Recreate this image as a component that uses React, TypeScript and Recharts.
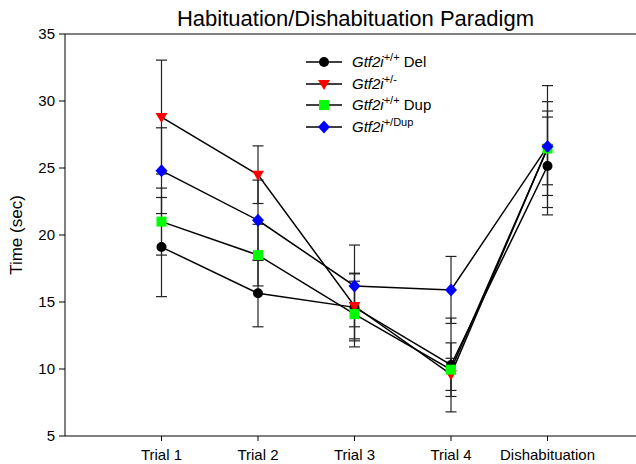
import React from 'react';
import {
  LineChart,
  Line,
  XAxis,
  YAxis,
  ErrorBar,
  Legend,
  ReferenceLine,
} from 'recharts';

const categories = ['Trial 1', 'Trial 2', 'Trial 3', 'Trial 4', 'Dishabituation'];
const yTicks = [5, 10, 15, 20, 25, 30, 35];

// Gtf2i +/+ Del (black circles)
const delMean = [19.1, 15.65, 14.6, 10.3, 25.15];
const delErr = [3.7, 2.5, 2.5, 3.5, 3.65];
// Gtf2i +/- (red triangles)
const hetMean = [28.8, 24.5, 14.7, 9.6, 26.5];
const hetErr = [4.25, 2.15, 2.45, 1.2, 2.75];
// Gtf2i +/+ Dup (green squares)
const dupMean = [21.0, 18.5, 14.1, 9.95, 26.45];
const dupErr = [2.5, 2.3, 2.45, 2.0, 3.5];
// Gtf2i +/Dup (blue diamonds)
const dupHetMean = [24.8, 21.1, 16.2, 15.9, 26.6];
const dupHetErr = [3.2, 3.0, 3.05, 2.5, 4.55];

const chartData = categories.map((name, i) => ({
  x: i + 1,
  name,
  del: delMean[i],
  delErr: delErr[i],
  het: hetMean[i],
  hetErr: hetErr[i],
  dup: dupMean[i],
  dupErr: dupErr[i],
  dupHet: dupHetMean[i],
  dupHetErr: dupHetErr[i],
}));

type Kind = 'circle' | 'triangle' | 'square' | 'diamond';

const markerColor: Record<Kind, string> = {
  circle: '#000000',
  triangle: '#ff0000',
  square: '#00ff00',
  diamond: '#0000ff',
};

const Marker = ({ cx, cy, kind }: { cx: number; cy: number; kind: Kind }) => {
  const fill = markerColor[kind];
  if (kind === 'circle') return <circle cx={cx} cy={cy} r={5} fill={fill} />;
  if (kind === 'square')
    return <rect x={cx - 5} y={cy - 5} width={10} height={10} fill={fill} />;
  if (kind === 'triangle')
    return (
      <polygon
        points={`${cx - 6},${cy - 4} ${cx + 6},${cy - 4} ${cx},${cy + 6}`}
        fill={fill}
      />
    );
  return (
    <polygon
      points={`${cx},${cy - 6.5} ${cx + 6},${cy} ${cx},${cy + 6.5} ${cx - 6},${cy}`}
      fill={fill}
    />
  );
};

const dotFor = (kind: Kind) => (p: any) =>
  <Marker key={`${kind}-${p.index}`} cx={p.cx} cy={p.cy} kind={kind} />;

const legendRows: { kind: Kind; sup: string; tail: string }[] = [
  { kind: 'circle', sup: '+/+', tail: ' Del' },
  { kind: 'triangle', sup: '+/-', tail: '' },
  { kind: 'square', sup: '+/+', tail: ' Dup' },
  { kind: 'diamond', sup: '+/Dup', tail: '' },
];

const renderLegend = () => (
  <div style={{ fontFamily: 'Arial, "Liberation Sans", sans-serif', fontSize: 15, color: '#000' }}>
    {legendRows.map((r) => (
      <div key={r.kind} style={{ display: 'flex', alignItems: 'center', height: 21.7 }}>
        <svg width={40} height={16} style={{ marginRight: 6, flexShrink: 0 }}>
          <line x1={0} y1={8} x2={36} y2={8} stroke="#000" strokeWidth={1.5} />
          <Marker cx={18} cy={8} kind={r.kind} />
        </svg>
        <span style={{ lineHeight: '16px', whiteSpace: 'nowrap' }}>
          <i>Gtf2i</i>
          <sup style={{ fontSize: 11, lineHeight: 0 }}>{r.sup}</sup>
          {r.tail}
        </span>
      </div>
    ))}
  </div>
);

const YLabel = ({ viewBox }: any) => (
  <text
    x={16.5}
    y={viewBox.y + viewBox.height / 2}
    transform={`rotate(-90, 16.5, ${viewBox.y + viewBox.height / 2})`}
    textAnchor="middle"
    dominantBaseline="central"
    fontSize={17}
    fill="#000"
  >
    Time (sec)
  </text>
);

const App: React.FC = () => {
  const font = 'Arial, "Liberation Sans", sans-serif';
  return (
    <div
      style={{
        position: 'absolute',
        left: 0,
        top: 0,
        width: 636,
        height: 464,
        overflow: 'hidden',
        background: '#fff',
        fontFamily: font,
      }}
    >
      <div
        style={{
          position: 'absolute',
          left: 0,
          top: 6,
          width: 711,
          textAlign: 'center',
          fontSize: 22,
          lineHeight: '26px',
          color: '#000',
        }}
      >
        Habituation/Dishabituation Paradigm
      </div>
      <LineChart
        width={644}
        height={464}
        data={chartData}
        margin={{ top: 34, right: 0, bottom: 0, left: 0 }}
        style={{ fontFamily: font }}
      >
        <XAxis
          dataKey="x"
          type="number"
          domain={[0, 6]}
          ticks={[1, 2, 3, 4, 5]}
          interval={0}
          tickFormatter={(v: number) => categories[v - 1]}
          height={28}
          tickSize={5}
          tickMargin={8}
          stroke="#000"
          tick={{ fill: '#000', fontSize: 15 }}
        />
        <YAxis
          type="number"
          domain={[5, 35]}
          ticks={yTicks}
          width={65}
          tickSize={6}
          tickMargin={4}
          stroke="#000"
          tick={{ fill: '#000', fontSize: 15 }}
          label={<YLabel />}
        />
        <ReferenceLine y={35} stroke="#000" strokeWidth={1} />
        <Legend
          layout="vertical"
          align="center"
          verticalAlign="middle"
          content={renderLegend}
          wrapperStyle={{ position: 'absolute', left: 306, top: 51, width: 170 }}
        />
        <Line
          dataKey="del"
          stroke="#000"
          strokeWidth={1.5}
          dot={dotFor('circle')}
          isAnimationActive={false}
        >
          <ErrorBar dataKey="delErr" direction="y" width={5.5} stroke="#222" strokeWidth={1.2} />
        </Line>
        <Line
          dataKey="het"
          stroke="#000"
          strokeWidth={1.5}
          dot={dotFor('triangle')}
          isAnimationActive={false}
        >
          <ErrorBar dataKey="hetErr" direction="y" width={5.5} stroke="#222" strokeWidth={1.2} />
        </Line>
        <Line
          dataKey="dup"
          stroke="#000"
          strokeWidth={1.5}
          dot={dotFor('square')}
          isAnimationActive={false}
        >
          <ErrorBar dataKey="dupErr" direction="y" width={5.5} stroke="#222" strokeWidth={1.2} />
        </Line>
        <Line
          dataKey="dupHet"
          stroke="#000"
          strokeWidth={1.5}
          dot={dotFor('diamond')}
          isAnimationActive={false}
        >
          <ErrorBar dataKey="dupHetErr" direction="y" width={5.5} stroke="#222" strokeWidth={1.2} />
        </Line>
      </LineChart>
    </div>
  );
};

export default App;
